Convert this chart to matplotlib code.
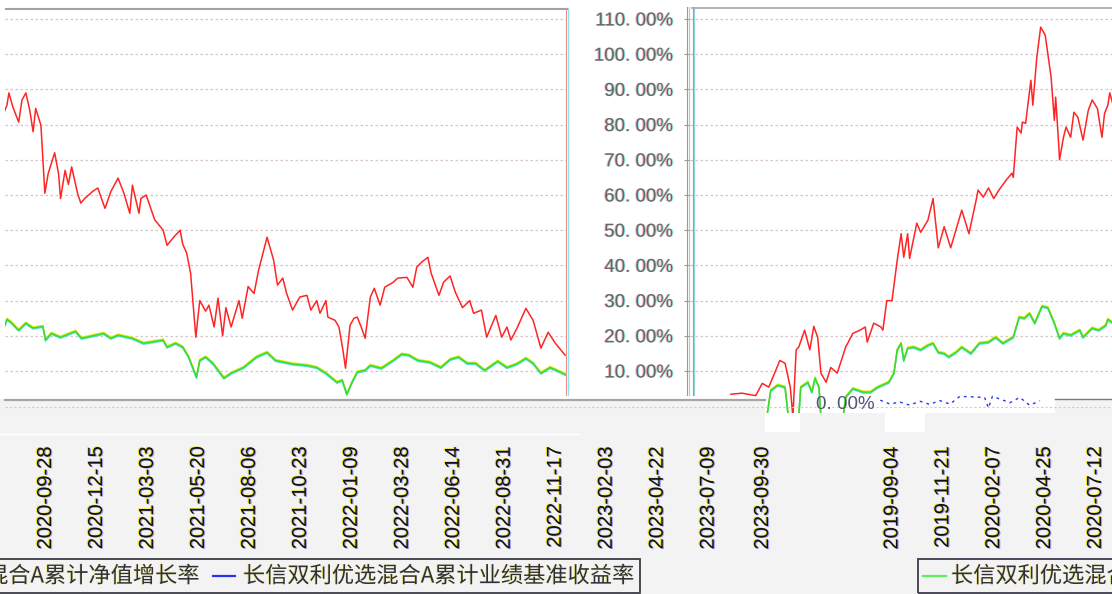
import matplotlib
matplotlib.use("Agg")
import matplotlib.pyplot as plt
import matplotlib.dates as mdates
import matplotlib.patheffects as pe
from matplotlib.patches import Rectangle
from matplotlib.lines import Line2D
import datetime as dt

# ---------------- data ----------------
fund_dates = [
    "2018-12-31", "2019-01-17", "2019-02-07", "2019-02-17", "2019-02-27", "2019-03-16", "2019-03-24",
    "2019-04-01", "2019-04-05", "2019-04-10", "2019-04-14", "2019-04-23", "2019-05-01", "2019-05-07",
    "2019-05-13", "2019-05-18", "2019-05-26", "2019-06-02", "2019-06-12", "2019-06-25", "2019-07-06",
    "2019-07-17", "2019-07-25", "2019-07-28", "2019-08-07", "2019-08-18", "2019-08-21", "2019-08-27",
    "2019-09-04", "2019-09-12", "2019-09-18", "2019-09-22", "2019-09-28", "2019-10-01", "2019-10-12",
    "2019-10-18", "2019-10-29", "2019-11-06", "2019-11-14", "2019-11-23", "2019-12-03", "2019-12-20",
    "2019-12-31",
    "2020-01-11", "2020-01-14", "2020-01-22", "2020-01-30", "2020-02-07", "2020-02-15", "2020-02-26",
    "2020-03-06", "2020-03-08", "2020-03-14", "2020-03-20", "2020-03-22", "2020-03-27", "2020-04-04",
    "2020-04-07", "2020-04-13", "2020-04-19", "2020-04-26", "2020-05-05", "2020-05-10", "2020-05-12",
    "2020-05-15", "2020-05-18", "2020-05-24", "2020-05-28", "2020-06-04", "2020-06-09", "2020-06-15",
    "2020-06-23", "2020-07-01", "2020-07-07", "2020-07-15", "2020-07-22", "2020-07-26",
    "2020-07-31", "2020-08-03", "2020-08-09", "2020-08-18", "2020-08-23", "2020-08-29", "2020-09-04",
    "2020-09-09", "2020-09-13", "2020-09-21", "2020-09-27", "2020-10-02", "2020-10-12", "2020-10-18",
    "2020-10-21", "2020-10-28", "2020-11-02", "2020-11-07", "2020-11-16", "2020-11-21", "2020-11-27",
    "2020-12-09", "2020-12-17", "2020-12-28",
    "2021-01-06", "2021-01-17", "2021-01-26", "2021-02-04", "2021-02-08", "2021-02-18", "2021-02-21",
    "2021-03-01", "2021-03-14", "2021-03-27", "2021-04-02", "2021-04-12", "2021-04-22", "2021-04-26",
    "2021-05-02", "2021-05-08", "2021-05-16", "2021-05-22", "2021-05-31", "2021-06-05", "2021-06-13",
    "2021-06-19", "2021-06-26", "2021-07-01", "2021-07-09", "2021-07-21", "2021-07-26", "2021-08-04",
    "2021-08-13", "2021-08-20", "2021-09-02", "2021-09-12", "2021-09-18", "2021-09-26", "2021-10-02",
    "2021-10-11", "2021-10-22", "2021-11-02", "2021-11-08", "2021-11-17", "2021-11-22", "2021-12-01",
    "2021-12-04", "2021-12-15", "2021-12-21", "2021-12-27", "2021-12-31",
    "2022-01-07", "2022-01-13", "2022-01-18", "2022-01-24", "2022-01-30", "2022-02-07", "2022-02-13",
    "2022-02-22", "2022-03-01", "2022-03-14", "2022-03-21", "2022-04-04", "2022-04-13", "2022-04-19",
    "2022-04-27", "2022-05-06", "2022-05-11", "2022-05-23", "2022-05-30", "2022-06-09", "2022-06-17",
    "2022-06-28", "2022-07-09", "2022-07-15", "2022-07-27", "2022-08-04", "2022-08-18", "2022-08-27",
    "2022-09-04", "2022-09-10", "2022-09-19", "2022-10-03", "2022-10-14", "2022-10-26", "2022-11-06",
    "2022-11-17", "2022-12-02",
]
fund_vals = [
    3.4, 3.7, 3.0, 6.5, 5.4, 13.0, 12.2,
    5.4, -3.0, 16.0, 16.8, 21.6, 16.0, 22.7,
    19.6, 9.4, 6.8, 11.0, 9.4, 16.8, 20.7,
    21.6, 22.5, 18.2, 23.6, 22.5, 21.6, 30.0,
    30.0, 41.5, 49.0, 42.3, 49.0, 42.0, 52.0,
    49.4, 52.8, 59.0, 45.0, 51.0, 45.0, 55.7,
    49.0,
    58.5, 61.4, 59.4, 62.0, 59.0, 61.4, 64.2,
    66.2, 65.0, 79.3, 77.6, 80.7, 80.4, 92.6,
    85.5, 98.9, 107.7, 105.4, 93.5, 81.2, 87.8,
    79.3, 70.0, 76.4, 79.3, 76.4, 83.5, 82.1,
    75.6, 84.0, 87.0, 84.6, 76.4, 83.2,
    85.5, 89.0, 85.0, 80.7, 87.0, 89.0, 84.0,
    78.0, 84.6, 79.8, 60.5, 66.0, 72.0, 66.0,
    59.0, 67.0, 63.0, 68.0, 60.5, 57.7, 59.0,
    61.0, 62.0, 56.2,
    61.0, 64.8, 60.5, 54.8, 62.8, 54.8, 59.0,
    60.0, 53.0, 50.0, 45.7, 48.0, 50.0, 46.0,
    43.5, 37.8, 19.6, 30.0, 27.0, 28.7, 22.5,
    30.7, 20.0, 28.0, 22.5, 30.0, 25.0, 34.0,
    32.0, 38.6, 48.0, 41.5, 34.4, 36.4, 32.0,
    27.3, 31.0, 31.5, 27.3, 30.0, 26.4, 30.0,
    25.3, 24.4, 22.5, 16.0, 10.8,
    23.0, 25.0, 25.3, 22.5, 19.3, 31.0, 33.5,
    28.7, 33.8, 35.2, 36.4, 36.6, 33.8, 39.5,
    41.0, 42.3, 37.8, 31.5, 35.2, 37.0, 32.4,
    28.0, 30.0, 26.4, 27.3, 19.6, 25.8, 19.6,
    22.5, 18.8, 22.0, 27.8, 24.4, 16.5, 21.0,
    17.9, 14.5,
]

bench_dates = [
    "2019-02-24", "2019-03-02", "2019-03-13", "2019-03-24", "2019-03-29", "2019-04-14", "2019-04-17",
    "2019-04-28", "2019-05-04", "2019-05-09", "2019-05-15", "2019-05-18", "2019-06-21", "2019-06-25",
    "2019-07-06", "2019-07-22", "2019-08-02", "2019-08-13", "2019-08-30", "2019-09-07", "2019-09-12",
    "2019-09-18", "2019-09-22", "2019-09-28", "2019-10-07", "2019-10-18", "2019-10-29", "2019-11-06",
    "2019-11-14", "2019-11-23", "2019-11-30", "2019-12-11", "2019-12-20",
    "2020-01-03", "2020-01-16", "2020-01-30", "2020-02-10", "2020-02-21", "2020-03-08", "2020-03-17",
    "2020-03-25", "2020-04-02", "2020-04-10", "2020-04-21", "2020-04-30", "2020-05-10", "2020-05-18",
    "2020-05-24", "2020-06-04", "2020-06-18", "2020-06-23", "2020-07-07", "2020-07-17", "2020-07-28",
    "2020-07-31", "2020-08-06", "2020-08-18", "2020-08-29", "2020-09-09", "2020-09-24", "2020-09-28",
    "2020-10-07", "2020-10-21", "2020-11-13", "2020-11-22", "2020-12-26",
    "2021-01-06", "2021-01-17", "2021-02-08", "2021-02-25", "2021-03-27", "2021-04-02", "2021-04-15",
    "2021-04-26", "2021-05-05", "2021-05-17", "2021-05-22", "2021-05-31", "2021-06-11", "2021-06-28",
    "2021-07-09", "2021-07-28", "2021-08-17", "2021-09-02", "2021-09-15", "2021-10-11", "2021-11-02",
    "2021-11-17", "2021-12-01", "2021-12-18", "2021-12-26",
    "2022-01-02", "2022-01-10", "2022-01-18", "2022-01-30", "2022-02-07", "2022-02-24", "2022-03-14",
    "2022-03-27", "2022-04-07", "2022-04-21", "2022-05-09", "2022-05-26", "2022-06-09", "2022-06-22",
    "2022-07-05", "2022-07-18", "2022-08-01", "2022-08-21", "2022-09-04", "2022-09-19", "2022-10-03",
    "2022-10-14", "2022-10-26", "2022-11-09", "2022-11-19", "2022-12-05",
]
bench_vals = [
    -3.0, 4.5, 6.0, 5.4, -3.0, -3.0, 5.4,
    6.8, 4.0, 8.0, 5.4, -3.0, -3.0, 2.6,
    5.0, 4.0, 4.0, 5.4, 6.8, 9.4, 16.0,
    17.9, 13.0, 16.5, 16.8, 16.0, 17.3, 17.9,
    15.3, 15.0, 14.0, 15.3, 16.8,
    15.0, 17.9, 18.2, 19.6, 17.9, 19.6, 25.3,
    25.0, 26.4, 23.6, 28.4, 28.0, 23.6, 19.3,
    20.7, 20.2, 21.6, 19.6, 22.2, 21.6, 23.0,
    24.7, 23.9, 21.6, 23.6, 22.2, 22.7, 18.8,
    20.7, 19.6, 21.3, 19.3, 20.7,
    19.3, 20.2, 19.3, 17.9, 18.8, 16.8, 17.9,
    16.8, 14.0, 8.2, 13.0, 14.0, 12.2, 8.0,
    9.4, 11.0, 14.0, 15.3, 13.0, 12.0, 11.6,
    11.0, 9.4, 6.8, 7.4,
    3.4, 6.8, 9.7, 10.2, 11.6, 10.8, 13.0,
    14.8, 14.5, 13.0, 12.5, 11.0, 13.3, 14.0,
    12.2, 12.2, 10.2, 12.8, 11.0, 12.0, 13.6,
    12.2, 9.4, 11.0, 10.2, 8.8,
]

# broken blue fragments near the zero line (right panel)
blue_dates = ["2019-08-17", "2019-09-01", "2019-09-16", "2019-10-01", "2019-10-17", "2019-11-01",
              "2019-11-16", "2019-12-02", "2019-12-17", "2020-01-24", "2020-01-30", "2020-02-05",
              "2020-03-03", "2020-03-18", "2020-04-02", "2020-04-18"]
blue_vals = [1.7, 0.6, 1.2, 0.3, 1.4, 0.5, 1.6, 0.6, 2.8, 2.5, -0.5, 2.8, 1.0, 2.5, 0.3, 1.5]

left_tick_labels = ["2020-09-28", "2020-12-15", "2021-03-03", "2021-05-20", "2021-08-06",
                    "2021-10-23", "2022-01-09", "2022-03-28", "2022-06-14", "2022-08-31",
                    "2022-11-17", "2023-02-03", "2023-04-22", "2023-07-09", "2023-09-30"]
right_tick_labels = ["2019-09-04", "2019-11-21", "2020-02-07", "2020-04-25", "2020-07-12"]
y_ticks = [10, 20, 30, 40, 50, 60, 70, 80, 90, 100, 110]
zero_label = "0. 00%"

fund_name = "长信双利优选混合A累计净值增长率"
bench_name = "长信双利优选混合A累计业绩基准收益率"

# ---------------- layout helpers ----------------
W, H = 1112, 594
fig = plt.figure(figsize=(W / 100, H / 100), dpi=100, facecolor="#f3f3f3")
LAT = ["Liberation Sans", "DejaVu Sans"]
CJK = ["Noto Sans CJK SC", "DejaVu Sans"]


def fx(px):
    return px / W


def fy(py):
    return 1 - py / H


def rect(x0, y0, x1, y1, color, z=-5, ec="none", lw=0):
    fig.add_artist(Rectangle((fx(x0), fy(y1)), (x1 - x0) / W, (y1 - y0) / H,
                             transform=fig.transFigure, facecolor=color,
                             edgecolor=ec, lw=lw, zorder=z))


def hline(x0, x1, y, color, lw, ls="-", z=5):
    fig.add_artist(Line2D([fx(x0), fx(x1)], [fy(y), fy(y)], transform=fig.transFigure,
                          color=color, lw=lw, ls=ls, zorder=z))


def vline(x, y0, y1, color, lw, z=5):
    fig.add_artist(Line2D([fx(x), fx(x)], [fy(y0), fy(y1)], transform=fig.transFigure,
                          color=color, lw=lw, zorder=z))


def axes_px(x0, y0, x1, y1):
    return fig.add_axes([fx(x0), fy(y1), (x1 - x0) / W, (y1 - y0) / H])


def pct_at(py):
    return (406.2 - py) / 3.52


anchorL = mdates.date2num(dt.date(2020, 9, 28))
anchorR = mdates.date2num(dt.date(2019, 9, 4))


def numL(px):
    return anchorL + (px - 45.5) / 0.6536


def numR(px):
    return anchorR + (px - 892.0) / 0.652


fd = mdates.datestr2num(fund_dates)
bd = mdates.datestr2num(bench_dates)
bld = mdates.datestr2num(blue_dates)

# ---------------- backgrounds ----------------
rect(0, 0, W, 399, "white")
rect(765, 399, 1055, 413, "white")
rect(765, 413, 800, 432, "white")
rect(885, 413, 925, 432, "white")
hline(0, 580, 433.5, "white", 1.0, z=-4)

grid_kw = dict(color="#d6c6c6", linestyle=(0, (2, 2)), linewidth=0.9)
green_fx = [pe.SimpleLineShadow(offset=(0, 0.7), shadow_color="#e8e800", alpha=0.9),
            pe.SimpleLineShadow(offset=(0, -0.7), shadow_color="#20d8e0", alpha=0.8),
            pe.Normal()]


def style_main(ax, x0, x1, ybot, ytop, mapper):
    ax.set_facecolor("none")
    ax.set_xlim(mapper(x0), mapper(x1))
    ax.set_ylim(pct_at(ybot), pct_at(ytop))
    ax.set_yticks(y_ticks)
    ax.grid(axis="y", **grid_kw)
    ax.set_axisbelow(True)
    for s in ax.spines.values():
        s.set_visible(False)
    ax.tick_params(bottom=False, labelbottom=False)
    ax.plot(fd, fund_vals, color="#ff2525", lw=1.1, zorder=3)
    ax.plot(bd, bench_vals, color="#3ddc2a", lw=1.1, zorder=2, path_effects=green_fx)


# left panel (later period)
ax_l = axes_px(5, 8, 567, 400)
style_main(ax_l, 5, 567, 400, 8, numL)
ax_l.tick_params(left=False, labelleft=False)

# right panel (earlier period)
ax_r = axes_px(690, 7, 1112, 413)
style_main(ax_r, 690, 1112, 413, 7, numR)
ax_r.plot(bld, blue_vals, color="#2a35ee", lw=1.0, ls=(0, (2, 3)), zorder=2)
ax_r.set_yticklabels([f"{v:.2f}".replace(".", ". ") + "%" for v in y_ticks])
ax_r.tick_params(axis="y", length=4, color="#9a9a9a", pad=8, labelsize=13.5,
                 labelcolor="#676767")
red_cyan = [pe.withStroke(linewidth=0, foreground="none")]
for lbl in ax_r.get_yticklabels():
    lbl.set_fontfamily(LAT)
    lbl.set_path_effects([
        pe.SimplePatchShadow(offset=(-0.7, 0), shadow_rgbFace="#ff6060", alpha=0.5),
        pe.SimplePatchShadow(offset=(0.7, 0), shadow_rgbFace="#30e0e0", alpha=0.5),
        pe.Normal()])

# ---------------- date tick label rows ----------------
label_fx = [pe.SimplePatchShadow(offset=(-0.8, 0.4), shadow_rgbFace="#f0e000", alpha=0.9),
            pe.SimplePatchShadow(offset=(0.8, -0.4), shadow_rgbFace="#2030ff", alpha=0.45),
            pe.Normal()]


def tick_row(x0, x1, mapper, labels):
    ax = axes_px(x0, 439, x1, 440)
    ax.set_facecolor("none")
    ax.set_xlim(mapper(x0), mapper(x1))
    ax.set_yticks([])
    for s in ax.spines.values():
        s.set_visible(False)
    ax.set_xticks(mdates.datestr2num(labels))
    ax.set_xticklabels(labels, rotation=90, fontsize=14.5, color="#111111")
    ax.tick_params(axis="x", length=0, pad=5)
    for lbl in ax.get_xticklabels():
        lbl.set_fontfamily(LAT)
        lbl.set_path_effects(label_fx)


tick_row(0, 800, numL, left_tick_labels)
tick_row(850, 1112, numR, right_tick_labels)

# ---------------- frame lines ----------------
hline(6, 567, 8.5, "#a2a2a2", 1.5)
vline(566.3, 8, 395, "#f08a8a", 0.8)
vline(568.0, 8, 395, "#8ae6ee", 0.8)
vline(687.2, 7, 395, "#e07c7c", 0.8)
vline(689.0, 7, 395, "#8ad8e0", 0.8)
vline(692.6, 7, 395, "#e07c7c", 0.8)
vline(694.4, 7, 395, "#8ad8e0", 0.8)
hline(692, W, 7.5, "#a8a8a8", 1.2)
hline(5, 765, 400, "#a5a5a5", 1.6)
hline(1055, W, 399, "#7a7a7a", 1.0)
hline(5, W, 406.5, "#cdcdcd", 0.8, ls=(0, (2, 2)), z=1)

fig.text(fx(875), fy(404.5), zero_label, ha="right", va="center", fontsize=13.5,
         color="#535378", family=LAT, zorder=6)

# ---------------- legends ----------------
rect(-5, 559, 640, 592.5, "none", z=5, ec="#3c3c44", lw=1.3)
rect(918, 559, W + 10, 592.5, "none", z=5, ec="#3c3c4c", lw=1.3)
leg_fx = [pe.SimplePatchShadow(offset=(-0.6, 0), shadow_rgbFace="#e8e000", alpha=0.5),
          pe.Normal()]
hline(-60, -38, 576, "#ff2525", 1.6)
fig.text(fx(200), fy(576), fund_name, ha="right", va="center", fontsize=16,
         color="#30303c", family=CJK, path_effects=leg_fx)
hline(213, 235, 576, "#2a35ee", 1.6)
fig.text(fx(243), fy(576), bench_name, ha="left", va="center", fontsize=16,
         color="#30303c", family=CJK, path_effects=leg_fx)
hline(923, 946, 576, "#5ef05e", 1.6)
fig.text(fx(951), fy(576), bench_name, ha="left", va="center", fontsize=16,
         color="#30303c", family=CJK, path_effects=leg_fx)

fig.savefig("out.png", dpi=100, facecolor=fig.get_facecolor())
